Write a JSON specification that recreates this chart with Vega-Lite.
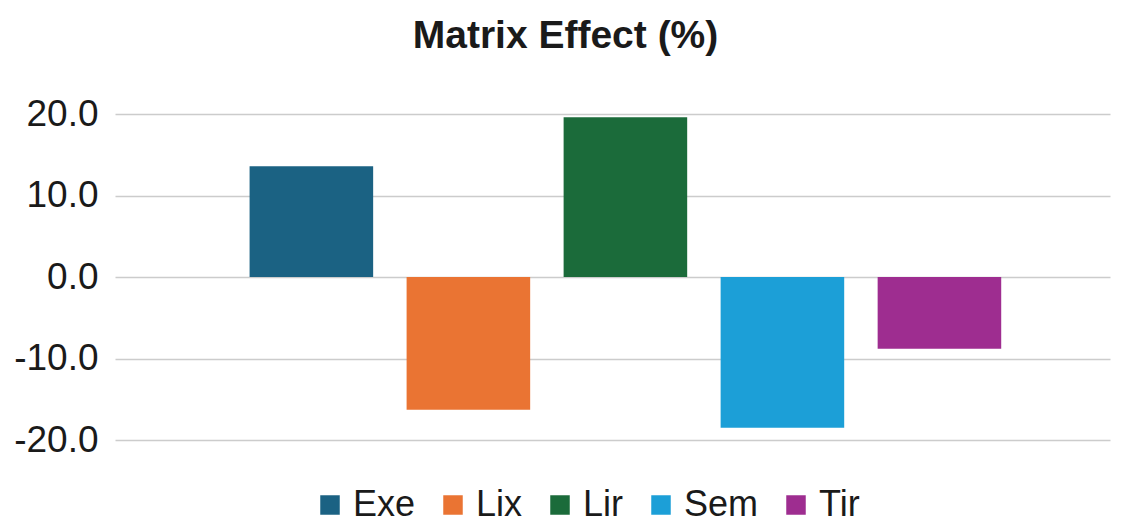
{
  "$schema": "https://vega.github.io/schema/vega-lite/v6.json",
  "autosize": "none",
  "width": 995,
  "height": 326,
  "padding": {"left": 115, "top": 114, "right": 16, "bottom": 85},
  "background": "white",
  "title": {
    "text": "Matrix Effect (%)",
    "font": "Liberation Sans",
    "fontSize": 39,
    "fontWeight": "bold",
    "color": "#1a1a1a",
    "anchor": "middle",
    "frame": "group",
    "dx": -47,
    "offset": 39
  },
  "data": {
    "values": [
      {"series": "Exe", "value": 13.6},
      {"series": "Lix", "value": -16.3},
      {"series": "Lir", "value": 19.6},
      {"series": "Sem", "value": -18.5},
      {"series": "Tir", "value": -8.8}
    ]
  },
  "mark": {"type": "bar"},
  "encoding": {
    "x": {
      "field": "series",
      "type": "nominal",
      "sort": ["Exe", "Lix", "Lir", "Sem", "Tir"],
      "scale": {"paddingInner": 0.213, "paddingOuter": 0.775, "align": 0.553},
      "axis": null
    },
    "y": {
      "field": "value",
      "type": "quantitative",
      "scale": {"domain": [-20, 20], "nice": false},
      "axis": {
        "values": [-20, -10, 0, 10, 20],
        "labelExpr": "replace(format(datum.value, '.1f'), '\u2212', '-')",
        "title": null,
        "domain": false,
        "ticks": false,
        "labelFont": "Liberation Sans",
        "labelFontSize": 37,
        "labelColor": "#1a1a1a",
        "labelPadding": 17,
        "gridColor": "#cccccc",
        "gridWidth": 1.5
      }
    },
    "color": {
      "field": "series",
      "type": "nominal",
      "sort": ["Exe", "Lix", "Lir", "Sem", "Tir"],
      "scale": {
        "domain": ["Exe", "Lix", "Lir", "Sem", "Tir"],
        "range": ["#1b6283", "#ea7433", "#1b6b3a", "#1c9fd7", "#9e2d90"]
      },
      "legend": {
        "title": null,
        "orient": "none",
        "direction": "horizontal",
        "legendX": 197,
        "legendY": 373,
        "symbolType": "square",
        "symbolSize": 380,
        "symbolStrokeWidth": 0,
        "labelFont": "Liberation Sans",
        "labelFontSize": 36,
        "labelColor": "#1a1a1a",
        "labelOffset": 5,
        "columnPadding": 19
      }
    }
  },
  "config": {"view": {"stroke": null}}
}
